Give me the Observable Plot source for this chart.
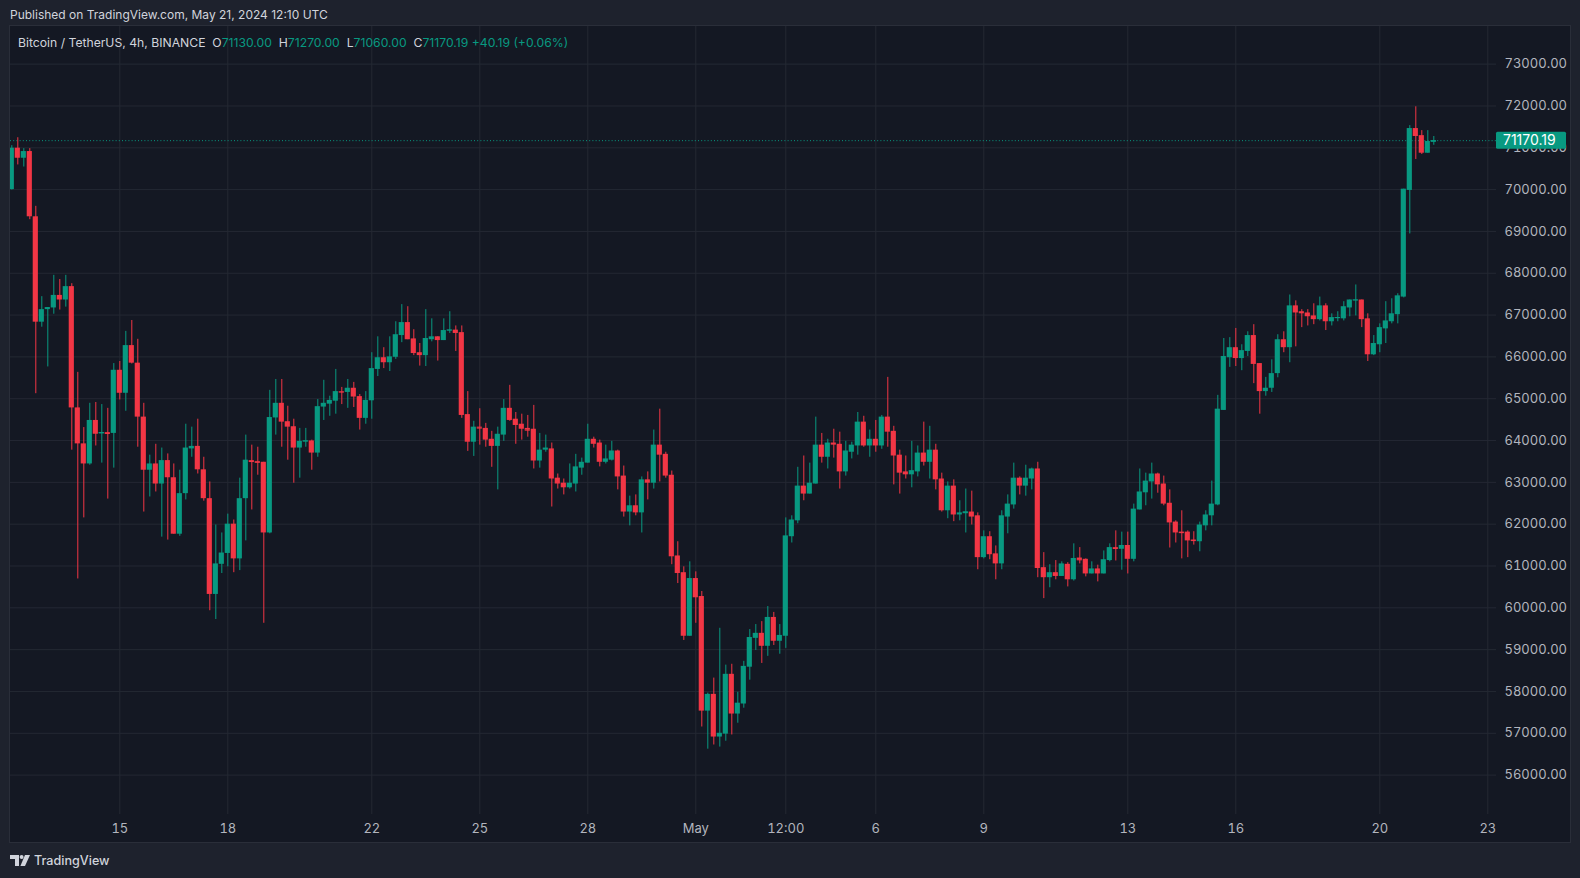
<!DOCTYPE html>
<html>
<head>
<meta charset="utf-8">
<script src="https://cdn.jsdelivr.net/npm/d3@7"></script>
<script src="https://cdn.jsdelivr.net/npm/@observablehq/plot@0.6"></script>
<style>
  html, body { margin: 0; padding: 0; }
  body { width: 1580px; height: 878px; overflow: hidden; background: #1e222d; position: relative;
         font-family: Inter, Roboto, "Noto Sans", sans-serif; }
  #pub { position: absolute; left: 10px; top: 7px; line-height: 16px; font-size: 12px; color: #d1d4dc; }
  #panel { position: absolute; left: 9px; top: 25px; width: 1562px; height: 818px; box-sizing: border-box;
           border: 1px solid #2a2e39; background: #141823; overflow: hidden; }
  #chart { position: absolute; left: 0; top: 0; }
  #legend { position: absolute; left: 8px; top: 9px; line-height: 16px; font-size: 12.2px; color: #d1d4dc; white-space: pre; }
  #legend .v { color: #089981; }
  #footer { position: absolute; left: 10px; top: 851px; height: 18px; display: flex; align-items: center; gap: 4px;
            color: #d1d4dc; font-size: 12.6px; font-weight: 500; }
</style>
</head>
<body>
<div id="pub">Published on TradingView.com, May 21, 2024 12:10 UTC</div>
<div id="panel">
  <div id="chart"></div>
  <div id="legend"></div>
</div>
<div id="footer">
  <svg width="20" height="11" viewBox="0 0 20 11"><path d="M0 0h9v11h-4v-7h-5z" fill="#d1d4dc"/><circle cx="11.6" cy="2" r="2" fill="#d1d4dc"/><path d="M15 0h5l-5 11h-4.6z" fill="#d1d4dc"/></svg>
  <span>TradingView</span>
</div>
<script>
// ---- data (4h bars, BTC/USDT, Binance) ----
const firstBar = "2024-04-12T00:00Z";
const barHours = 4;
const opens = [70000,70990,70750,70910,69350,66830,67130,67170,67470,67360,67680,64780,63920,63440,64480,64160,64190,64170,65680,65130,66270,65850,64560,63290,63440,62960,63520,63110,61760,62730,
63800,63860,63300,62610,60320,61040,61300,62000,61170,62610,63520,63500,63480,61790,64540,64890,64450,64330,63820,63970,63990,63700,64800,64870,64940,65170,65150,65250,65050,64530,
64950,65700,65980,65860,65990,66510,66820,66430,66100,66030,66410,66480,66390,66630,66640,66580,64620,63960,64320,64290,64030,63860,64130,64770,64510,64390,64290,64270,63510,63770,
63800,63100,62980,62870,62960,63340,63460,64030,63940,63480,63530,63750,63150,62290,62440,62270,63060,62980,63890,63670,63170,61240,60840,59320,60700,60270,57530,57930,56910,56980,
58410,57460,57700,58580,59270,59390,59080,59770,59200,59320,61700,62080,62910,62720,62960,63890,63600,63940,63910,63250,63720,63870,64440,63870,64030,63870,64560,64220,63650,63250,
63180,63250,63700,63480,63770,63080,62320,62910,62220,62250,62290,62200,61200,61700,61290,61050,62170,62460,63100,62910,63080,63320,60960,60720,60840,60750,61040,60670,61190,61160,
60810,60930,60810,61130,61440,61400,61490,61160,62340,62750,63010,63200,62960,62500,62050,61810,61810,61620,61580,61960,62200,62460,64720,65980,66220,65960,66130,66510,65840,65170,
65250,65600,66410,66220,67220,67080,67050,66980,66890,67220,66840,66920,66910,67170,67350,67360,66910,66050,66290,66670,66840,67010,67430,69980,71460,71290,70870,71130];
const highs = [71050,71240,70980,70980,69600,67440,67180,67950,67850,67950,67750,65630,64310,64890,64910,64860,64770,65840,65890,66610,66870,66420,64890,63650,63910,63820,63680,63440,63290,64390,
64320,64510,63600,63010,61980,61790,62240,62100,63100,64130,63890,63840,63480,65200,65460,65460,64820,64510,64290,64290,64010,64980,65440,65060,65700,65270,65460,65390,65100,65170,
66100,66480,66220,66480,66840,67250,67200,66650,66320,67130,66910,66480,66910,67080,66740,66740,65170,64460,64760,64410,64220,64320,64980,65320,64670,64630,64600,64840,64170,64130,
63940,63200,63080,63440,63670,63580,64390,64080,64010,63890,63980,63770,63390,62670,62700,63130,63250,64250,64750,63720,63270,61580,60980,61100,60860,60390,57960,58320,59510,58630,
58650,57980,58720,59480,59600,59670,60030,59890,59600,62150,62200,63360,63630,63460,64560,64170,64030,64270,64200,63980,63960,64670,64580,64250,64480,64600,65510,64340,63770,63630,
63980,63870,64440,64340,63910,63220,63010,63060,62560,62840,62790,62270,61840,61820,61480,62320,62700,63460,63130,63410,63340,63480,61320,61030,61130,61100,61080,61530,61440,61170,
61100,61020,61360,61530,61840,61810,61810,62480,63320,63220,63460,63220,63150,62820,62080,62320,61840,61820,62050,62320,63030,65080,66440,66460,66680,66290,66600,66770,65840,65510,
65930,66530,66600,67480,67340,67130,67130,67270,67430,67270,67030,67080,67320,67360,67720,67360,67030,66510,66790,67320,67390,67510,70010,71530,71980,71410,71410,71270];
const lows = [69990,70590,70540,69280,65120,66710,65760,67020,67120,67190,63770,60690,62150,63410,63870,63460,62600,63340,64970,64700,65830,63840,62290,62650,62770,61690,61620,61760,61710,62580,
63600,63200,62550,59930,59720,60820,60980,60840,60890,61600,62340,63170,59630,61770,64130,63840,63530,62980,63100,63840,63290,63600,64480,64580,64630,64860,64770,64790,64250,64390,
64510,65530,65720,65650,65940,66340,66410,66030,65780,65770,66360,65900,66390,66560,66130,64530,63740,63620,63890,63840,63360,62820,63980,64460,63910,64010,64080,63320,63340,63720,
62410,62840,62700,62840,62770,63170,63460,63820,63370,63440,63510,62820,62170,61960,62200,61790,62580,62840,63010,63100,61030,60580,59220,59320,59630,57150,56620,56720,56670,56810,
56960,57240,57600,58270,58980,58670,58840,59100,58890,59030,61550,62010,62560,62720,62960,63460,63320,63580,62840,63150,63560,63650,63840,63600,63720,63790,63840,62940,62720,63080,
62870,63130,63390,63080,62820,62290,62130,62060,62080,61790,61980,60910,61170,61150,60670,60910,61770,62360,62700,62670,62820,60720,60220,60480,60670,60750,60500,60640,61050,60740,
60810,60620,60810,61100,61120,60900,60810,61100,62340,62440,62600,62740,62440,61430,61550,61170,61200,61500,61340,61840,61960,62440,64720,65750,65770,65670,66010,65360,64630,65060,
65150,65500,66100,65860,66240,66700,66740,66770,66860,66630,66740,66840,66860,66960,66980,66700,65890,66030,66100,66320,66790,66790,67410,68940,70720,70840,70870,71060];
const closes = [70990,70750,70910,69350,66830,67130,67180,67470,67360,67680,64780,63920,63440,64480,64150,64190,64170,65680,65130,66270,65850,64560,63290,63440,62960,63520,63110,61760,62730,63820,
63860,63300,62610,60320,61050,61310,62000,61170,62610,63530,63500,63480,61790,64550,64890,64440,64320,63820,63980,63990,63700,64810,64890,64960,65170,65160,65250,65040,64530,64960,
65720,65980,65860,66000,66530,66820,66410,66080,66030,66440,66480,66390,66630,66640,66560,64600,63960,64320,64300,64010,63860,64150,64770,64480,64360,64270,64250,63510,63770,63820,
63080,62960,62870,62980,63370,63480,64030,63910,63480,63560,63750,63130,62290,62440,62270,63060,62980,63890,63650,63150,61220,60820,59320,60700,60240,57530,57930,56910,57000,58410,
57460,57720,58600,59290,59390,59080,59770,59200,59340,61720,62100,62910,62720,62980,63890,63600,63940,63890,63250,63750,63890,64440,63870,64030,63870,64560,64200,63630,63220,63180,
63280,63700,63480,63770,63060,62320,62910,62220,62270,62290,62170,61200,61700,61270,61050,62200,62480,63100,62910,63100,63320,60940,60720,60840,60750,61050,60670,61180,61150,60810,
60930,60810,61150,61440,61420,61490,61160,62360,62770,63030,63200,62940,62480,62030,61790,61800,61600,61610,61980,62220,62480,64750,66010,66220,65960,66150,66510,65820,65170,65250,
65600,66410,66220,67220,67050,67030,66960,66890,67220,66840,66940,66940,67200,67360,67360,66890,66050,66320,66700,66860,67030,67460,70010,71460,71270,70870,71150,71170.19];

const priceTicks = [56000,57000,58000,59000,60000,61000,62000,63000,64000,65000,66000,67000,68000,69000,70000,71000,72000,73000];
const timeTicks = ["2024-04-15T00:00Z","2024-04-18T00:00Z","2024-04-22T00:00Z","2024-04-25T00:00Z","2024-04-28T00:00Z","2024-05-01T00:00Z","2024-05-03T12:00Z","2024-05-06T00:00Z","2024-05-09T00:00Z","2024-05-13T00:00Z","2024-05-16T00:00Z","2024-05-20T00:00Z","2024-05-23T00:00Z"];
const timeTickLabels = ["15","18","22","25","28","May","12:00","6","9","13","16","20","23"];

const legendName = "Bitcoin / TetherUS, 4h, BINANCE";
const lastBar = {o: "71130.00", h: "71270.00", l: "71060.00", c: "71170.19", chg: "+40.19 (+0.06%)"};

// ---- build ----
const UP = "#089981", DOWN = "#f23645", GRID = "#242833";
const t0 = Date.parse(firstBar), step = barHours * 3600e3;
const bars = opens.map((o, i) => ({t: new Date(t0 + i * step), o, h: highs[i], l: lows[i], c: closes[i]}));
const colorOf = d => (d.c >= d.o ? UP : DOWN);
const half = step * 0.43;
const tickDates = timeTicks.map(s => new Date(s));
const labelMap = new Map(tickDates.map((d, i) => [+d, timeTickLabels[i]]));
const lastClose = closes[closes.length - 1];

const W = 1560, H = 816, mR = 74, mB = 28;
const plotW = W - mR;
const day = 86400e3;
const ref = Date.parse("2024-04-15T00:00Z");
const xDomain = [new Date(ref - 109.3 / 36 * day), new Date(ref + (plotW - 109.3) / 36 * day)];

const chart = Plot.plot({
  width: W, height: H,
  marginLeft: 0, marginRight: mR, marginTop: 0, marginBottom: mB,
  style: {background: "transparent", color: "#b2b5be", fontSize: "13px", fontFamily: "Inter, Roboto, sans-serif"},
  x: {type: "utc", domain: xDomain, label: null},
  y: {domain: [55058, 73900], label: null},
  color: {type: "identity"},
  marks: [
    Plot.ruleY(priceTicks, {stroke: GRID}),
    Plot.ruleX(tickDates, {stroke: GRID}),
    Plot.axisY(priceTicks, {anchor: "right", tickSize: 0, tickPadding: 8, tickFormat: d => d.toFixed(2), fill: "#b2b5be", label: null}),
    Plot.axisX(tickDates, {anchor: "bottom", tickSize: 0, tickPadding: 9, tickFormat: d => labelMap.get(+d), fill: "#b2b5be", label: null}),
    Plot.ruleY([lastClose], {stroke: UP, strokeDasharray: "1,2.2", strokeWidth: 1}),
    Plot.ruleX(bars, {x: "t", y1: "l", y2: "h", stroke: colorOf, strokeWidth: 1, clip: true}),
    Plot.rect(bars, {x1: d => new Date(+d.t - half), x2: d => new Date(+d.t + half),
                     y1: d => Math.min(d.o, d.c), y2: d => Math.max(d.o, d.c), fill: colorOf, clip: true}),
    Plot.ruleY(bars.filter(d => Math.abs(d.o - d.c) < 45), {y: "c", x1: d => new Date(+d.t - half), x2: d => new Date(+d.t + half),
                     stroke: colorOf, strokeWidth: 1.2, clip: true})
  ]
});
document.getElementById("chart").appendChild(chart);

// last price label on the price scale
const yPix = chart.scale("y").apply(lastClose);
const xEdge = chart.scale("x").range[1];
const g = d3.select(chart).append("g").attr("text-anchor", "start");
g.append("rect").attr("x", xEdge).attr("y", yPix - 8.5).attr("width", 70).attr("height", 17).attr("rx", 1.5).attr("fill", UP);
g.append("text").attr("x", xEdge + 7).attr("y", yPix).attr("dy", "0.36em").attr("fill", "#ffffff")
  .attr("text-anchor", "start").attr("font-size", 14).attr("font-family", "Inter, Roboto, sans-serif").text(lastClose.toFixed(2));

// legend row
const lg = document.getElementById("legend");
lg.innerHTML = `${legendName}  O<span class="v">${lastBar.o}</span>  H<span class="v">${lastBar.h}</span>  L<span class="v">${lastBar.l}</span>  C<span class="v">${lastBar.c}</span> <span class="v">${lastBar.chg}</span>`;
</script>
</body>
</html>
